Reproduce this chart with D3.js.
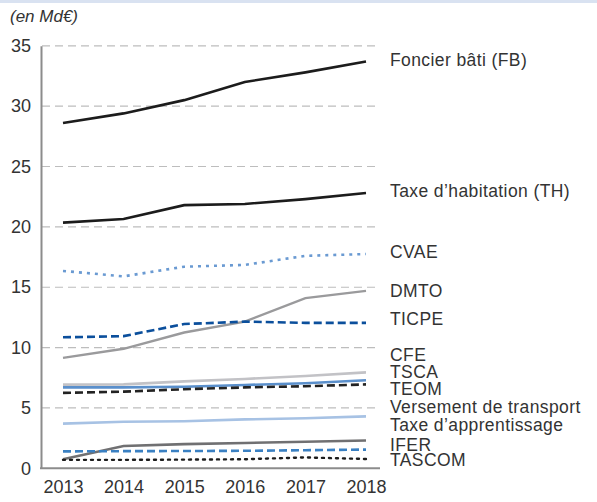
<!DOCTYPE html>
<html><head><meta charset="utf-8">
<script src="https://cdn.jsdelivr.net/npm/d3@7"></script>
<style>body{margin:0;background:#fff;}svg{display:block;font-family:"Liberation Sans",Arial,sans-serif;}</style>
</head><body>
<svg id="c" width="597" height="502"></svg>
<script>
const years = [2013, 2014, 2015, 2016, 2017, 2018];
const yTicks = [0, 5, 10, 15, 20, 25, 30, 35];
const seriesNames = ["Foncier bâti (FB)", "Taxe d’habitation (TH)", "CVAE", "DMTO", "TICPE", "CFE", "TSCA", "TEOM", "Versement de transport", "Taxe d’apprentissage", "IFER", "TASCOM"];
const fb    = [28.6, 29.4, 30.5, 32.0, 32.8, 33.7];
const th    = [20.35, 20.65, 21.8, 21.9, 22.3, 22.8];
const cvae  = [16.35, 15.9, 16.7, 16.85, 17.6, 17.75];
const dmto  = [9.15, 9.9, 11.25, 12.15, 14.1, 14.7];
const ticpe = [10.85, 10.95, 11.95, 12.15, 12.05, 12.05];
const cfe   = [6.93, 6.95, 7.2, 7.4, 7.65, 7.95];
const tsca  = [6.7, 6.7, 6.75, 6.9, 7.05, 7.3];
const teom  = [6.25, 6.35, 6.55, 6.7, 6.8, 6.95];
const vt    = [3.7, 3.85, 3.9, 4.05, 4.15, 4.3];
const tapp  = [0.75, 1.85, 2.0, 2.1, 2.2, 2.3];
const ifer  = [1.4, 1.42, 1.43, 1.45, 1.5, 1.55];
const tascom= [0.7, 0.7, 0.72, 0.75, 0.9, 0.77];
const seriesValues = [fb, th, cvae, dmto, ticpe, cfe, tsca, teom, vt, tapp, ifer, tascom];
// label anchor values (in Md€) for the right-hand labels
const labelValues = [33.8, 23.0, 17.9, 14.65, 12.35, 9.35, 7.95, 6.55, 5.05, 3.55, 1.95, 0.65];
const styles = [
  {c:"#1c1c1c", w:2.6, d:null},
  {c:"#1c1c1c", w:2.6, d:null},
  {c:"#6a9ad2", w:2.6, d:"3,5"},
  {c:"#9a9a9c", w:2.4, d:null},
  {c:"#0b4f9c", w:2.6, d:"8,4"},
  {c:"#c2c2c6", w:2.6, d:null},
  {c:"#5a8fcb", w:2.6, d:null},
  {c:"#222222", w:2.6, d:"8,4"},
  {c:"#a7c2e4", w:2.6, d:null},
  {c:"#707072", w:2.6, d:null},
  {c:"#3a80c2", w:2.6, d:"8,4"},
  {c:"#1c1c1c", w:2.4, d:"2,5"}
];

const svg = d3.select("#c");
svg.append("rect").attr("x",0).attr("y",0).attr("width",597).attr("height",3).attr("fill","#d9e2f1");

const x = d3.scaleLinear().domain([2013, 2018]).range([63, 366]);
const y = d3.scaleLinear().domain([0, 35]).range([468.3, 45.8]);

// gridlines
svg.append("g").selectAll("line").data(yTicks.filter(t=>t>0)).join("line")
  .attr("x1",42).attr("x2",379).attr("y1",d=>y(d)).attr("y2",d=>y(d))
  .attr("stroke","#bdbdbd").attr("stroke-width",1.2).attr("stroke-dasharray","8,5");

// y axis
const yAxis = d3.axisLeft(y).tickValues(yTicks).tickSize(0).tickPadding(10);
const gy = svg.append("g").attr("transform","translate(41,0)").call(yAxis);
gy.select(".domain").attr("stroke","#8c8c8c").attr("stroke-width",2);
gy.selectAll("text").attr("font-size",18).attr("fill","#333").attr("font-family","Liberation Sans, Arial, sans-serif");

// x axis
const xAxis = d3.axisBottom(x).tickValues(years).tickFormat(d3.format("d")).tickSize(0).tickPadding(12);
const gx = svg.append("g").attr("transform","translate(0,468.3)").call(xAxis);
gx.select(".domain").attr("d","M40,0H380").attr("stroke","#8c8c8c").attr("stroke-width",2);
gx.selectAll("text").attr("font-size",18).attr("fill","#333").attr("font-family","Liberation Sans, Arial, sans-serif");

// lines
const line = d3.line().x((d,i)=>x(years[i])).y(d=>y(d));
svg.append("g").selectAll("path").data(seriesValues).join("path")
  .attr("d", d=>line(d)).attr("fill","none")
  .attr("stroke",(d,i)=>styles[i].c).attr("stroke-width",(d,i)=>styles[i].w)
  .attr("stroke-dasharray",(d,i)=>styles[i].d).attr("stroke-linecap",(d,i)=>styles[i].d==="2,5"?"round":"butt");

// labels
svg.append("g").selectAll("text").data(seriesNames).join("text")
  .attr("x",390).attr("y",(d,i)=>y(labelValues[i])+6)
  .attr("font-size",17.5).attr("letter-spacing",0.4).attr("fill","#333").text(d=>d);

svg.append("text").attr("x",10).attr("y",22).attr("font-size",17).attr("font-style","italic").attr("fill","#333").text("(en Md€)");
</script>
</body></html>
